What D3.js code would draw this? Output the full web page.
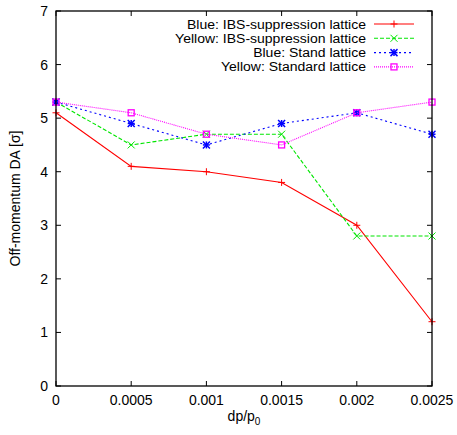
<!DOCTYPE html>
<html><head><meta charset="utf-8">
<script src="https://cdn.jsdelivr.net/npm/d3@7"></script>
<style>body{margin:0;background:#fff}svg{display:block}text{font-family:"Liberation Sans",Arial,sans-serif;fill:#000}</style>
</head><body>
<script>
const xValues = [0, 0.0005, 0.001, 0.0015, 0.002, 0.0025];
const blueIBS = [5.1, 4.1, 4.0, 3.8, 3.0, 1.2];
const yellowIBS = [5.3, 4.5, 4.7, 4.7, 2.8, 2.8];
const blueStd = [5.3, 4.9, 4.5, 4.9, 5.1, 4.7];
const yellowStd = [5.3, 5.1, 4.7, 4.5, 5.1, 5.3];
const seriesNames = ["Blue: IBS-suppression lattice","Yellow: IBS-suppression lattice","Blue: Stand lattice","Yellow: Standard lattice"];
const xTicks = [0, 0.0005, 0.001, 0.0015, 0.002, 0.0025];
const xTickLabels = ["0","0.0005","0.001","0.0015","0.002","0.0025"];
const yTicks = [0,1,2,3,4,5,6,7];

const W=457,H=435;
const L=56,R=432,T=11,B=386;
const FS="14px";
const svg=d3.select("body").append("svg").attr("width",W).attr("height",H);
const x=d3.scaleLinear().domain([0,0.0025]).range([L,R]);
const y=d3.scaleLinear().domain([0,7]).range([B,T]);

const styles=[
 {color:"#ff0000",dash:null,marker:"plus"},
 {color:"#00e600",dash:"4,2",marker:"cross"},
 {color:"#0000ff",dash:"2,3",marker:"star"},
 {color:"#ff00ff",dash:"1,1",marker:"square"}
];
const data=[blueIBS,yellowIBS,blueStd,yellowStd];

// ticks (inward, mirrored)
const tl=5;
const g=svg.append("g");
xTicks.forEach((v,i)=>{
  const px=x(v);
  g.append("line").attr("x1",px).attr("x2",px).attr("y1",B).attr("y2",B-tl).attr("stroke","#000");
  g.append("line").attr("x1",px).attr("x2",px).attr("y1",T).attr("y2",T+tl).attr("stroke","#000");
  g.append("text").attr("x",px).attr("y",B+19).attr("text-anchor","middle").attr("font-size",FS).text(xTickLabels[i]);
});
yTicks.forEach(v=>{
  const py=y(v);
  g.append("line").attr("x1",L).attr("x2",L+tl).attr("y1",py).attr("y2",py).attr("stroke","#000");
  g.append("line").attr("x1",R).attr("x2",R-tl).attr("y1",py).attr("y2",py).attr("stroke","#000");
  g.append("text").attr("x",L-8).attr("y",py+5).attr("text-anchor","end").attr("font-size",FS).text(v);
});

function marker(sel,type,cx,cy,color){
  const s=3.5;
  const gm=sel.append("g").attr("stroke",color).attr("stroke-width",1).attr("fill","none");
  if(type==="plus"||type==="star"){
    gm.append("line").attr("x1",cx-s).attr("x2",cx+s).attr("y1",cy).attr("y2",cy);
    gm.append("line").attr("x1",cx).attr("x2",cx).attr("y1",cy-s).attr("y2",cy+s);
  }
  if(type==="cross"||type==="star"){
    gm.append("line").attr("x1",cx-s).attr("x2",cx+s).attr("y1",cy-s).attr("y2",cy+s);
    gm.append("line").attr("x1",cx-s).attr("x2",cx+s).attr("y1",cy+s).attr("y2",cy-s);
  }
  if(type==="star") gm.attr("stroke-width",1.5);
  if(type==="square"){
    gm.append("rect").attr("x",cx-3).attr("y",cy-3).attr("width",6).attr("height",6).attr("stroke-width",1.3);
  }
}

const line=d3.line().x((d,i)=>x(xValues[i])).y(d=>y(d));
data.forEach((vals,k)=>{
  const st=styles[k];
  svg.append("path").datum(vals).attr("d",line).attr("fill","none").attr("stroke",st.color).attr("stroke-width",1.1)
    .attr("stroke-dasharray",st.dash);
  vals.forEach((v,i)=>marker(svg,st.marker,x(xValues[i]),y(v),st.color));
});

// legend
const ly0=24, ldy=14.3;
seriesNames.forEach((name,k)=>{
  const st=styles[k];
  const py=ly0+k*ldy;
  const t=svg.append("text").attr("x",366).attr("y",py+5).attr("text-anchor","end").attr("font-size",FS).text(name);
  const w=t.node().getComputedTextLength();
  t.attr("font-size","12.3px").attr("textLength",w).attr("lengthAdjust","spacingAndGlyphs").attr("y",py+4.5);
  svg.append("line").attr("x1",374).attr("x2",414).attr("y1",py).attr("y2",py).attr("stroke",st.color).attr("stroke-width",1.1).attr("stroke-dasharray",st.dash);
  marker(svg,st.marker,394,py,st.color);
});

// frame
svg.append("rect").attr("x",L).attr("y",T).attr("width",R-L).attr("height",B-T).attr("fill","none").attr("stroke","#000").attr("stroke-width",1.3);

// axis labels
const xl=svg.append("text").attr("x",(L+R)/2).attr("y",421).attr("text-anchor","middle").attr("font-size",FS);
xl.append("tspan").text("dp/p");
xl.append("tspan").attr("font-size","10px").attr("dy",4).text("0");
svg.append("text").attr("transform",`translate(20,${(T+B)/2}) rotate(-90)`).attr("text-anchor","middle").attr("font-size",FS).text("Off-momentum DA [σ]");
</script>
</body></html>
